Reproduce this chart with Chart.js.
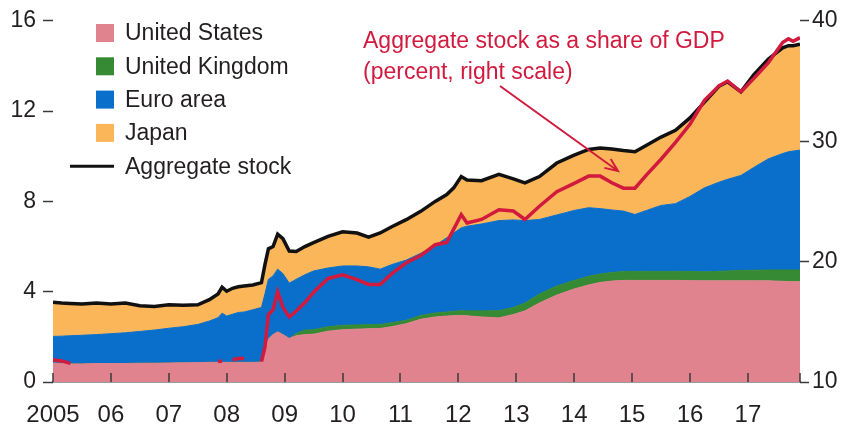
<!DOCTYPE html>
<html>
<head>
<meta charset="utf-8">
<script src="https://cdn.jsdelivr.net/npm/chart.js@4.4.0/dist/chart.umd.min.js"></script>
<style>
body { margin: 0; background: #fff; }
#wrap { width: 845px; height: 425px; position: relative; }
</style>
</head>
<body>
<div id="wrap"><canvas id="chart"></canvas></div>
<script>
// time axis (decimal years)
var years = [2005.0, 2005.15, 2005.3, 2005.5, 2005.75,
  2006.0, 2006.25, 2006.5, 2006.75,
  2007.0, 2007.25, 2007.5, 2007.7, 2007.85, 2007.92,
  2008.0, 2008.1, 2008.2, 2008.3, 2008.45, 2008.6, 2008.66, 2008.72, 2008.8, 2008.88, 2008.97,
  2009.08, 2009.2, 2009.35, 2009.5, 2009.75,
  2010.0, 2010.25, 2010.45, 2010.65, 2010.85,
  2011.1, 2011.35, 2011.6, 2011.8, 2011.92,
  2012.05, 2012.15, 2012.4, 2012.7, 2012.95,
  2013.15, 2013.4, 2013.7,
  2014.0, 2014.25, 2014.45, 2014.65, 2014.85,
  2015.05, 2015.25, 2015.5, 2015.75,
  2016.0, 2016.25, 2016.5, 2016.65, 2016.88,
  2017.1, 2017.35, 2017.6, 2017.7, 2017.78, 2017.9];

var unitedStates = [0.84, 0.82, 0.80, 0.80, 0.82,
  0.82, 0.82, 0.83, 0.83,
  0.84, 0.85, 0.86, 0.87, 0.87, 0.87,
  0.87, 0.87, 0.87, 0.87, 0.87, 0.88, 1.30, 1.90, 2.10, 2.22, 2.10,
  1.93, 2.05, 2.10, 2.12, 2.25,
  2.32, 2.34, 2.36, 2.37, 2.45,
  2.58, 2.78, 2.88, 2.92, 2.94,
  2.95, 2.93, 2.88, 2.84, 2.99,
  3.15, 3.50, 3.85,
  4.12, 4.30, 4.41, 4.47, 4.50,
  4.50, 4.50, 4.50, 4.50,
  4.49, 4.48, 4.48, 4.48, 4.48,
  4.48, 4.48, 4.46, 4.45, 4.45, 4.44];

var unitedKingdom = [0, 0, 0, 0, 0,
  0, 0, 0, 0,
  0, 0, 0, 0, 0, 0,
  0, 0, 0, 0, 0, 0, 0, 0, 0, 0, 0,
  0, 0.10, 0.20, 0.20, 0.20,
  0.19, 0.19, 0.18, 0.18, 0.17,
  0.15, 0.17, 0.18, 0.18, 0.19,
  0.21, 0.22, 0.27, 0.32, 0.31,
  0.35, 0.40, 0.40,
  0.38, 0.38, 0.37, 0.38, 0.39,
  0.40, 0.40, 0.40, 0.40,
  0.41, 0.40, 0.42, 0.44, 0.46,
  0.47, 0.48, 0.50, 0.51, 0.51, 0.52];

var euroArea = [1.18, 1.21, 1.25, 1.27, 1.28,
  1.32, 1.36, 1.41, 1.47,
  1.54, 1.60, 1.69, 1.83, 1.98, 2.18,
  2.05, 2.13, 2.21, 2.23, 2.33, 2.42, 2.60, 2.65, 2.60, 2.78, 2.70,
  2.45, 2.40, 2.45, 2.60, 2.60,
  2.63, 2.61, 2.56, 2.45, 2.58,
  2.67, 2.75, 2.99, 3.29, 3.47,
  3.67, 3.75, 3.85, 3.99, 3.88,
  3.65, 3.30, 3.15,
  3.10, 3.04, 2.90, 2.77, 2.68,
  2.52, 2.70, 2.92, 3.00,
  3.32, 3.72, 3.95, 4.06, 4.21,
  4.55, 4.92, 5.16, 5.24, 5.27, 5.31];

var japan = [1.51, 1.47, 1.43, 1.38, 1.40,
  1.31, 1.32, 1.14, 1.05,
  1.04, 0.95, 0.87, 0.95, 1.05, 1.15,
  1.10, 1.15, 1.14, 1.15, 1.10, 1.10, 1.30, 1.35, 1.30, 1.55, 1.55,
  1.42, 1.23, 1.25, 1.25, 1.40,
  1.51, 1.46, 1.32, 1.60, 1.68,
  1.79, 1.86, 1.95, 1.91, 2.00,
  2.27, 2.05, 1.92, 2.05, 1.82,
  1.67, 1.90, 2.30,
  2.45, 2.58, 2.69, 2.70, 2.68,
  2.78, 2.89, 3.03, 3.25,
  3.48, 3.80, 4.25, 4.32, 3.70,
  4.10, 4.42, 4.68, 4.70, 4.67, 4.69];

var aggregateStock = [3.53, 3.50, 3.48, 3.45, 3.50,
  3.45, 3.50, 3.38, 3.35,
  3.42, 3.40, 3.42, 3.65, 3.90, 4.20,
  4.02, 4.15, 4.22, 4.25, 4.30, 4.40, 5.20, 5.90, 6.00, 6.55, 6.35,
  5.80, 5.78, 6.00, 6.17, 6.45,
  6.65, 6.60, 6.42, 6.60, 6.88,
  7.19, 7.56, 8.00, 8.30, 8.60,
  9.10, 8.95, 8.92, 9.20, 9.00,
  8.82, 9.10, 9.70,
  10.05, 10.30, 10.37, 10.32, 10.25,
  10.20, 10.49, 10.85, 11.15,
  11.70, 12.40, 13.10, 13.30, 12.85,
  13.60, 14.30, 14.80, 14.90, 14.90, 14.96];

// percent of GDP, right scale (null where hidden under the areas)
var shareOfGdp = [11.85, 11.75, 11.55, null, null,
  null, null, null, null,
  null, null, null, null, 11.70, 11.75,
  null, 11.85, 11.95, 11.95, null, 11.70, 12.90, 15.60, 16.00, 17.50, 16.20,
  15.40, 15.90, 16.60, 17.45, 18.60,
  18.90, 18.50, 18.10, 18.10, 19.00,
  19.90, 20.50, 21.40, 21.60, 22.70,
  23.90, 23.20, 23.50, 24.30, 24.20,
  23.50, 24.60, 25.80,
  26.50, 27.10, 27.10, 26.55, 26.10,
  26.10, 27.20, 28.50, 29.90,
  31.40, 33.40, 34.60, 35.00, 34.10,
  35.20, 36.50, 38.20, 38.50, 38.30, 38.60];

var xTicks = [2005, 2006, 2007, 2008, 2009, 2010, 2011, 2012, 2013, 2014, 2015, 2016, 2017, 2017.9];
var xLabels = ['2005', '06', '07', '08', '09', '10', '11', '12', '13', '14', '15', '16', '17', ''];
var noteLines = ['Aggregate stock as a share of GDP', '(percent, right scale)'];

var FONT = '"Liberation Sans", Arial, sans-serif';
var RED = '#d11a3d';

function pts(arr) {
  return arr.map(function(v, i) { return {x: years[i], y: v}; });
}

function area(label, arr, color, fill) {
  return {
    label: label, data: pts(arr), fill: fill,
    backgroundColor: color, borderColor: color, borderWidth: 1,
    pointRadius: 0, tension: 0, yAxisID: 'y', stack: 'areas'
  };
}

var extras = {
  id: 'extras',
  afterDatasetsDraw: function(chart) {
    var ctx = chart.ctx;
    var xs = chart.scales.x;
    var bottom = chart.chartArea.bottom;
    ctx.save();

    // year ticks point up into the plot
    ctx.strokeStyle = '#3a3a3a';
    ctx.lineWidth = 1.5;
    xTicks.forEach(function(v) {
      var px = Math.round(xs.getPixelForValue(v));
      ctx.beginPath();
      ctx.moveTo(px, bottom);
      ctx.lineTo(px, bottom - 9);
      ctx.stroke();
    });

    // legend
    var ds = chart.data.datasets;
    ctx.font = '23px ' + FONT;
    ctx.textBaseline = 'middle';
    for (var i = 0; i < 5; i++) {
      var cy = 33 + i * 33.3;
      if (i < 4) {
        ctx.fillStyle = ds[i].backgroundColor;
        ctx.fillRect(96, cy - 9, 18, 18);
      } else {
        ctx.strokeStyle = '#111';
        ctx.lineWidth = 3;
        ctx.beginPath();
        ctx.moveTo(70, cy);
        ctx.lineTo(114, cy);
        ctx.stroke();
      }
      ctx.fillStyle = '#231f20';
      ctx.fillText(ds[i].label, 125, cy + 1);
    }

    // red note with arrow
    ctx.fillStyle = RED;
    ctx.textBaseline = 'alphabetic';
    ctx.fillText(noteLines[0], 363, 48);
    ctx.fillText(noteLines[1], 363, 79);
    var x0 = 500, y0 = 86, x1 = 618, y1 = 171;
    var ang = Math.atan2(y1 - y0, x1 - x0);
    ctx.strokeStyle = RED;
    ctx.lineWidth = 2;
    ctx.beginPath();
    ctx.moveTo(x0, y0);
    ctx.lineTo(x1, y1);
    ctx.moveTo(x1 - 14 * Math.cos(ang - 0.4), y1 - 14 * Math.sin(ang - 0.4));
    ctx.lineTo(x1, y1);
    ctx.lineTo(x1 - 14 * Math.cos(ang + 0.4), y1 - 14 * Math.sin(ang + 0.4));
    ctx.stroke();
    ctx.restore();
  }
};

var ctx = document.getElementById('chart');

var myChart = new Chart(ctx, {
  type: 'line',
  data: {
    datasets: [
      area('United States', unitedStates, '#e0838f', 'origin'),
      area('United Kingdom', unitedKingdom, '#368a33', '-1'),
      area('Euro area', euroArea, '#0a6fcb', '-1'),
      area('Japan', japan, '#fbb65a', '-1'),
      {
        label: 'Aggregate stock', data: pts(aggregateStock), fill: false,
        borderColor: '#111', borderWidth: 3.5, pointRadius: 0, tension: 0,
        yAxisID: 'y', stack: 'agg', order: -1
      },
      {
        label: 'Aggregate stock as a share of GDP', data: pts(shareOfGdp), fill: false,
        borderColor: RED, borderWidth: 3.5, pointRadius: 0, tension: 0,
        yAxisID: 'y2', spanGaps: false, order: -2
      }
    ]
  },
  options: {
    responsive: true,
    maintainAspectRatio: false,
    animation: false,
    layout: { padding: { top: 18, left: 0, right: 0, bottom: 0 } },
    plugins: { legend: { display: false }, tooltip: { enabled: false } },
    scales: {
      x: {
        type: 'linear', min: 2005, max: 2017.9,
        afterBuildTicks: function(scale) {
          scale.ticks = xTicks.map(function(v) { return {value: v}; });
        },
        afterFit: function(scale) { scale.height = 43; },
        grid: { display: false },
        border: { display: true, color: '#3a3a3a', width: 1.5 },
        ticks: {
          autoSkip: false, maxRotation: 0, padding: 11,
          color: '#231f20', font: { family: FONT, size: 24 },
          callback: function(value, index) { return xLabels[index]; }
        }
      },
      y: {
        position: 'left', stacked: true, min: 0, max: 16,
        afterFit: function(scale) { scale.width = 53; },
        grid: { drawOnChartArea: false, tickLength: 10, tickColor: '#3a3a3a', tickWidth: 1.5 },
        border: { display: false },
        ticks: { stepSize: 4, padding: 7, color: '#231f20', font: { family: FONT, size: 23 } }
      },
      y2: {
        position: 'right', min: 10, max: 40,
        afterFit: function(scale) { scale.width = 45; },
        grid: { drawOnChartArea: false, tickLength: 9, tickColor: '#3a3a3a', tickWidth: 1.5 },
        border: { display: false },
        ticks: { stepSize: 10, padding: 3, color: '#231f20', font: { family: FONT, size: 23 } }
      }
    }
  },
  plugins: [extras]
});
</script>
</body>
</html>
